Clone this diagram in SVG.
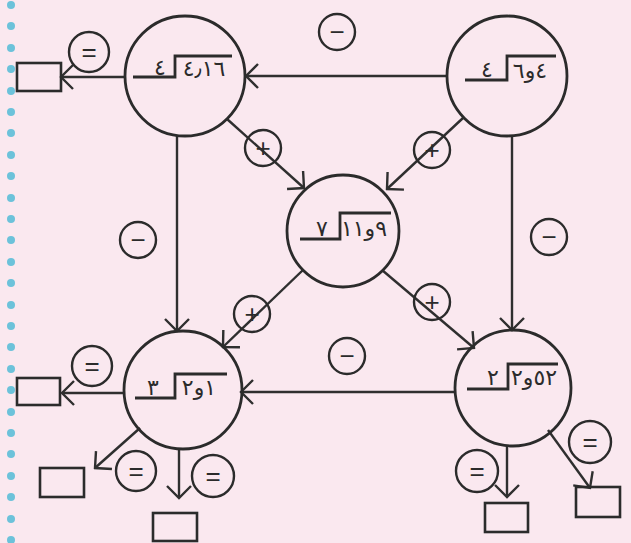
<svg xmlns="http://www.w3.org/2000/svg" width="631" height="543" viewBox="0 0 631 543">
<defs>
<style>
.bg{fill:#fae8ef}
.dot{fill:#6cc2da}
.node{fill:none;stroke:#2b2b2b;stroke-width:2.8}
.br{fill:none;stroke:#2b2b2b;stroke-width:2.8}
.num{font-family:"DejaVu Sans",sans-serif;font-size:22px;fill:#2b2b2b;text-anchor:middle}
.edge{fill:none;stroke:#2f2f2f;stroke-width:2.4;marker-end:url(#arr)}
.lab circle{fill:none;stroke:#2b2b2b;stroke-width:2.4}
.lab text{font-family:"Liberation Sans",sans-serif;font-size:26px;fill:#2b2b2b;text-anchor:middle}
.box{fill:none;stroke:#2b2b2b;stroke-width:2.6}
</style>
<marker id="arr" viewBox="0 0 16 28" refX="14" refY="14" markerWidth="16" markerHeight="28" markerUnits="userSpaceOnUse" orient="auto">
<path d="M2,2 L14,14 L2,26" fill="none" stroke="#2f2f2f" stroke-width="2.4"/>
</marker>
</defs>
<rect class="bg" x="0" y="0" width="631" height="543"/>
<g id="binding">
<circle class="dot" cx="11" cy="5" r="4"/><circle class="dot" cx="11" cy="26" r="4"/><circle class="dot" cx="11" cy="48" r="4"/><circle class="dot" cx="11" cy="69" r="4"/><circle class="dot" cx="11" cy="91" r="4"/><circle class="dot" cx="11" cy="112" r="4"/><circle class="dot" cx="11" cy="133" r="4"/><circle class="dot" cx="11" cy="155" r="4"/><circle class="dot" cx="11" cy="176" r="4"/><circle class="dot" cx="11" cy="198" r="4"/><circle class="dot" cx="11" cy="219" r="4"/><circle class="dot" cx="11" cy="240" r="4"/><circle class="dot" cx="11" cy="262" r="4"/><circle class="dot" cx="11" cy="283" r="4"/><circle class="dot" cx="11" cy="305" r="4"/><circle class="dot" cx="11" cy="326" r="4"/><circle class="dot" cx="11" cy="347" r="4"/><circle class="dot" cx="11" cy="369" r="4"/><circle class="dot" cx="11" cy="390" r="4"/><circle class="dot" cx="11" cy="412" r="4"/><circle class="dot" cx="11" cy="433" r="4"/><circle class="dot" cx="11" cy="454" r="4"/><circle class="dot" cx="11" cy="476" r="4"/><circle class="dot" cx="11" cy="497" r="4"/><circle class="dot" cx="11" cy="519" r="4"/><circle class="dot" cx="11" cy="540" r="4"/>
</g>
<g id="connectors">
<line class="edge" x1="447" y1="76" x2="246" y2="76"/>
<line class="edge" x1="227" y1="119" x2="304" y2="188"/>
<line class="edge" x1="463" y1="118" x2="387" y2="189"/>
<line class="edge" x1="177" y1="136" x2="177" y2="331"/>
<line class="edge" x1="512" y1="136" x2="512" y2="330"/>
<line class="edge" x1="303" y1="270" x2="223" y2="347"/>
<line class="edge" x1="382" y1="270" x2="474" y2="348"/>
<line class="edge" x1="455" y1="392" x2="241" y2="392"/>
<line class="edge" x1="125" y1="77" x2="61" y2="77"/>
<line class="edge" x1="124" y1="393" x2="62" y2="393"/>
<line class="edge" x1="140" y1="428" x2="95" y2="468"/>
<line class="edge" x1="179" y1="449" x2="179" y2="498"/>
<line class="edge" x1="507" y1="446" x2="507" y2="497"/>
<line class="edge" x1="548" y1="430" x2="590" y2="488"/>
</g>
<g id="labels">
<g class="lab"><circle cx="337" cy="32" r="18"/><text x="337" y="41">−</text></g>
<g class="lab"><circle cx="263" cy="148" r="18"/><text x="263" y="157">+</text></g>
<g class="lab"><circle cx="432" cy="150" r="18"/><text x="432" y="159">+</text></g>
<g class="lab"><circle cx="138" cy="240" r="18"/><text x="138" y="249">−</text></g>
<g class="lab"><circle cx="549" cy="237" r="18"/><text x="549" y="246">−</text></g>
<g class="lab"><circle cx="252" cy="314" r="18"/><text x="252" y="323">+</text></g>
<g class="lab"><circle cx="432" cy="302" r="18"/><text x="432" y="311">+</text></g>
<g class="lab"><circle cx="347" cy="356" r="18"/><text x="347" y="365">−</text></g>
<g class="lab"><circle cx="89" cy="52" r="20"/><text x="89" y="61">=</text></g>
<g class="lab"><circle cx="92" cy="366" r="20"/><text x="92" y="375">=</text></g>
<g class="lab"><circle cx="136" cy="471" r="20"/><text x="136" y="480">=</text></g>
<g class="lab"><circle cx="213" cy="476" r="21"/><text x="213" y="485">=</text></g>
<g class="lab"><circle cx="477" cy="471" r="21"/><text x="477" y="480">=</text></g>
<g class="lab"><circle cx="590" cy="442" r="21"/><text x="590" y="451">=</text></g>
</g>
<g id="node-tl">
<circle class="node" cx="185" cy="76" r="60"/>
<polyline class="br" points="133,77 175,77 175,56 232,56"/>
<text class="num" x="160" y="75">٤</text>
<text class="num" x="204" y="76" direction="ltr" unicode-bidi="bidi-override">٤٫١٦</text>
</g>
<g id="node-tr">
<circle class="node" cx="507" cy="76" r="60"/>
<polyline class="br" points="465,80 507,80 507,56 556,56"/>
<text class="num" x="487" y="77">٤</text>
<text class="num" x="530" y="78" direction="ltr" unicode-bidi="bidi-override">٦و٤</text>
</g>
<g id="node-mid">
<circle class="node" cx="343" cy="231" r="56"/>
<polyline class="br" points="300,239 340,239 340,213 391,213"/>
<text class="num" x="322" y="236">٧</text>
<text class="num" x="364" y="236" direction="ltr" unicode-bidi="bidi-override">١١و٩</text>
</g>
<g id="node-bl">
<circle class="node" cx="183" cy="390" r="59"/>
<polyline class="br" points="135,398 175,398 175,374 227,374"/>
<text class="num" x="153" y="395">٣</text>
<text class="num" x="199" y="395" direction="ltr" unicode-bidi="bidi-override">٢و١</text>
</g>
<g id="node-br">
<circle class="node" cx="513" cy="388" r="58"/>
<polyline class="br" points="467,389 508,389 508,364 558,364"/>
<text class="num" x="493" y="385">٢</text>
<text class="num" x="534" y="385" direction="ltr" unicode-bidi="bidi-override">٢و٥٢</text>
</g>
<g id="answer-boxes">
<rect class="box" x="17" y="63" width="44" height="28"/>
<rect class="box" x="17" y="378" width="43" height="27"/>
<rect class="box" x="40" y="468" width="44" height="29"/>
<rect class="box" x="153" y="513" width="44" height="28"/>
<rect class="box" x="485" y="503" width="43" height="29"/>
<rect class="box" x="576" y="487" width="44" height="30"/>
</g>
</svg>
